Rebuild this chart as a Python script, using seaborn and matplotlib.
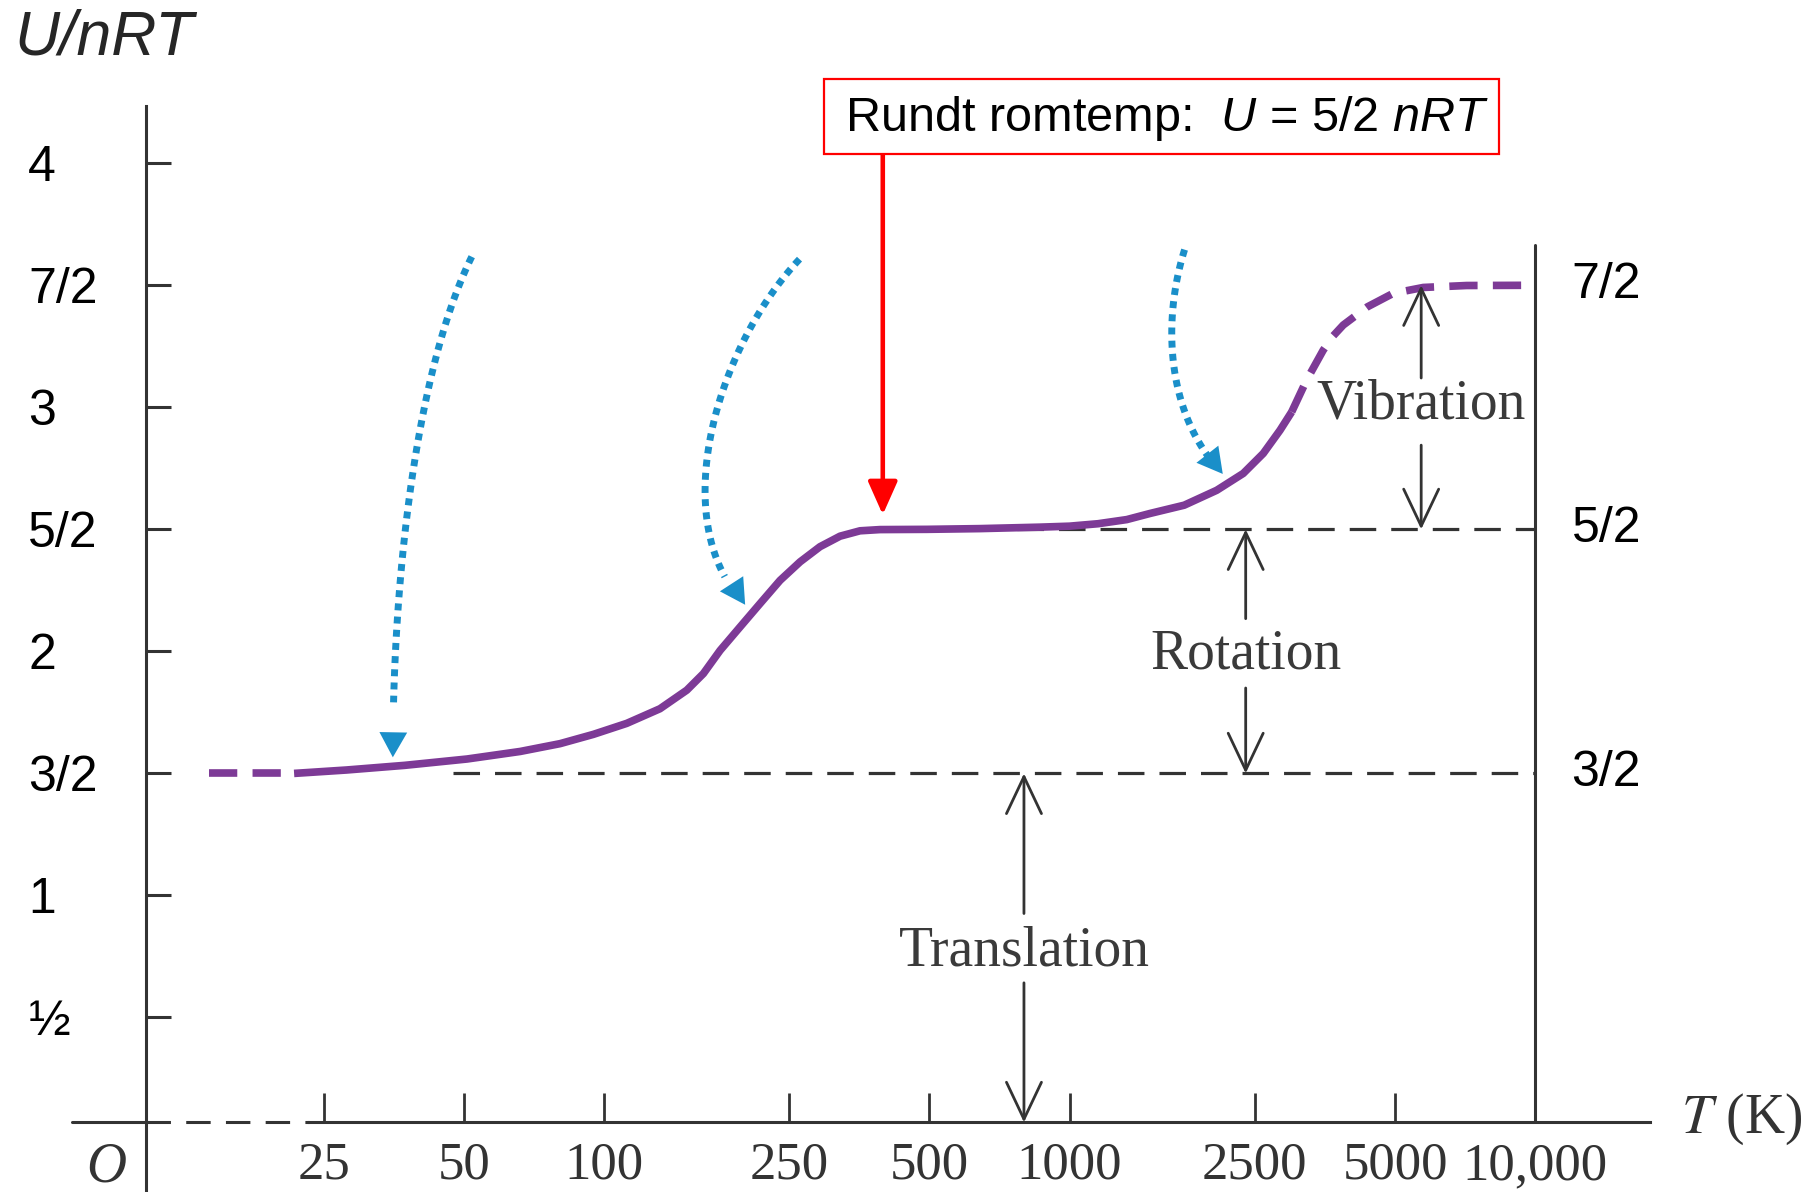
import numpy as np
import pandas as pd
import matplotlib
matplotlib.use('Agg')
import matplotlib.pyplot as plt
import seaborn as sns
from matplotlib.patches import Rectangle

# U/nRT curve (T in K)
temp_low = [14.15, 21.6]
u_low = [1.5, 1.5]
temp_mid = [21.6, 28.0, 37.3, 50.8, 66.1, 80.5, 94.9, 111.9, 131.9, 150.6, 163.5, 177.6,
            196.0, 216.4, 238.9, 263.8, 291.1, 321.4, 354.7, 391.5, 493.6, 641.8, 864,
            1000, 1151, 1327, 1488, 1763, 2070, 2360, 2606, 2831, 2999]
u_mid = [1.500, 1.514, 1.533, 1.559, 1.590, 1.622, 1.660, 1.705, 1.765, 1.841, 1.909,
         2.004, 2.100, 2.196, 2.291, 2.367, 2.429, 2.472, 2.494, 2.499, 2.500, 2.503,
         2.509, 2.513, 2.523, 2.540, 2.565, 2.599, 2.660, 2.729, 2.811, 2.906, 2.981]
temp_high = [2999, 3228, 3505, 3680, 3870, 4365, 4955, 5748, 7121, 10000]
u_high = [2.981, 3.111, 3.234, 3.292, 3.337, 3.412, 3.467, 3.491, 3.499, 3.5]

x_ticks = [25, 50, 100, 250, 500, 1000, 2500, 5000, 10000]
x_ticklabels = ['25', '50', '100', '250', '500', '1000', '2500', '5000', '10,000']
y_ticks = [0.5, 1, 1.5, 2, 2.5, 3, 3.5, 4]
y_ticklabels = ['½', '1', '3/2', '2', '5/2', '3', '7/2', '4']
right_levels = [1.5, 2.5, 3.5]
right_labels = ['3/2', '5/2', '7/2']

# degree-of-freedom bands: (label, T position, low, high, text U, gap below, gap above)
bands = [('Translation', 798, 0.07, 1.5, 0.77, 0.642, 0.926),
         ('Rotation', 2389, 1.5, 2.5, 1.988, 1.85, 2.134),
         ('Vibration', 5690, 2.5, 3.5, 3.01, 2.845, 3.12)]

# blue dotted hint arrows: cubic bezier control points (T, U)
hint_arrows = [[(52, 3.617), (39.5, 3.153), (35.2, 2.30), (35.2, 1.566)],
               [(263, 3.607), (175, 3.248), (135, 2.537), (201, 2.191)],
               [(1766, 3.646), (1575, 3.343), (1619, 2.964), (2133, 2.727)]]

T_AXIS = 10.4       # where the vertical axis crosses
U_AXIS = 0.07       # where the horizontal axis sits
T_BREAK = 23.2      # end of the dashed axis break
T_ROOM = 397        # room temperature marker

purple = '#7d3a96'
blue = '#1a8fc9'
grey = '#333333'

sns.set_theme(style='white')
plt.rcParams['font.family'] = ['Liberation Sans', 'DejaVu Sans']
plt.rcParams['mathtext.fontset'] = 'custom'
plt.rcParams['mathtext.rm'] = 'Liberation Sans'
plt.rcParams['mathtext.it'] = 'Liberation Sans:italic'

fig = plt.figure(figsize=(18.12, 11.92), dpi=100)
ax = fig.add_axes([0.03954, 0.0, 0.87117, 0.91077])
ax.set_xscale('log')
ax.set_xlim(7.19, 17660)
ax.set_ylim(-0.215, 4.233)
ax.patch.set_alpha(0)

# axes: left spine is the y axis, bottom spine is the T axis
for s in ['top', 'right']:
    ax.spines[s].set_visible(False)
ax.spines['left'].set_position(('data', T_AXIS))
ax.spines['left'].set_bounds(-0.215, 4.233)
ax.spines['bottom'].set_position(('data', U_AXIS))
ax.spines['bottom'].set_bounds(T_BREAK, 17660)
for s in ['left', 'bottom']:
    ax.spines[s].set_color(grey)
    ax.spines[s].set_linewidth(2.2)
ax.plot([7.19, T_AXIS], [U_AXIS, U_AXIS], color=grey, lw=2.2, clip_on=False)
ax.plot([T_AXIS, T_BREAK], [U_AXIS, U_AXIS], color=grey, lw=2.2,
        linestyle=(0, (8, 5)), clip_on=False)

ax.set_xticks(x_ticks)
ax.set_xticklabels(x_ticklabels)
ax.xaxis.set_minor_locator(matplotlib.ticker.NullLocator())
ax.tick_params(axis='x', bottom=True, direction='in', length=21, width=2, color=grey,
               pad=14, labelsize=38, labelcolor=grey)
for lab in ax.get_xticklabels():
    lab.set_family('Liberation Serif')

ax.set_yticks(y_ticks)
ax.set_yticklabels(y_ticklabels)
ax.tick_params(axis='y', left=True, direction='in', length=18, width=2.2, color=grey,
               pad=85, labelsize=36, labelcolor='black')
for lab in ax.get_yticklabels():
    lab.set_horizontalalignment('left')

# right border line and level labels
ax.plot([10000, 10000], [U_AXIS, 3.665], color=grey, lw=2.2)
for lev, lab in zip(right_levels, right_labels):
    ax.text(11970, lev, lab, fontsize=36, ha='left', va='center', color='black')

# reference dashed levels
ax.plot([47.4, 10000], [1.5, 1.5], color=grey, lw=2.3, linestyle=(0, (8.3, 4.7)))
ax.plot([771, 10000], [2.5, 2.5], color=grey, lw=2.3, linestyle=(0, (8.3, 4.7)))

# the curve
curve_kw = dict(ax=ax, color=purple, lw=5.5, sort=False, estimator=None,
                solid_joinstyle='round', solid_capstyle='butt')
sns.lineplot(x=temp_low, y=u_low, linestyle=(0, (3.7, 2.0)), **curve_kw)
sns.lineplot(x=temp_mid, y=u_mid, **curve_kw)
sns.lineplot(x=temp_high, y=u_high, linestyle=(0, (3.7, 2.0)), **curve_kw)

# band arrows + labels
arrow_kw = dict(arrowstyle='->,head_length=1.33,head_width=0.63', lw=2, color=grey,
                shrinkA=0, shrinkB=0, mutation_scale=20)
for name, t, lo, hi, tu, gap_lo, gap_hi in bands:
    ax.annotate('', xy=(t, hi), xytext=(t, gap_hi), arrowprops=arrow_kw)
    ax.annotate('', xy=(t, lo), xytext=(t, gap_lo), arrowprops=arrow_kw)
    ax.text(t, tu, name, fontsize=40, family='Liberation Serif', color='#3a3a3a',
            ha='center', va='center')

# blue dotted hint arrows
s = np.linspace(0, 1, 120)
for pts in hint_arrows:
    lx = np.log10([p[0] for p in pts])
    uy = np.array([p[1] for p in pts])
    bx = ((1 - s) ** 3 * lx[0] + 3 * (1 - s) ** 2 * s * lx[1]
          + 3 * (1 - s) * s ** 2 * lx[2] + s ** 3 * lx[3])
    by = ((1 - s) ** 3 * uy[0] + 3 * (1 - s) ** 2 * s * uy[1]
          + 3 * (1 - s) * s ** 2 * uy[2] + s ** 3 * uy[3])
    cut = 108
    ax.plot(10 ** bx[:cut], by[:cut], color=blue, lw=5, linestyle=(0, (1, 0.9)),
            dash_capstyle='butt')
    ax.annotate('', xy=(10 ** bx[-1], by[-1]), xytext=(10 ** bx[cut - 6], by[cut - 6]),
                arrowprops=dict(arrowstyle='-|>,head_length=0.45,head_width=0.25',
                                lw=0, color=blue, mutation_scale=40,
                                shrinkA=0, shrinkB=0))

# room temperature callout
ax.annotate('', xy=(T_ROOM, 2.56), xytext=(T_ROOM, 4.039),
            arrowprops=dict(arrowstyle='-|>,head_length=0.45,head_width=0.2', lw=3.3,
                            color='#ff0000', mutation_scale=45, shrinkA=0, shrinkB=0),
            annotation_clip=False)
fig.patches.append(Rectangle((0.4547, 0.8710), 0.3724, 0.0630, transform=fig.transFigure,
                             fill=True, facecolor='white', edgecolor='#ff0000', lw=1.6))
fig.text(0.4662, 0.9010, r'Rundt romtemp:  $\mathit{U}$ = 5/2 $\mathit{nRT}$',
         fontsize=35, ha='left', va='center', color='black')

# axis titles
fig.text(0.0077, 0.968, 'U/nRT', fontsize=45, style='italic', ha='left', va='center')
fig.text(92 / 1568, 1 - 1010 / 1031, 'O', fontsize=40, style='italic',
         family='Liberation Serif', ha='center', va='center', color=grey)
fig.text(1455 / 1568, 1 - 968 / 1031, r'$T$ (K)', fontsize=40, family='Liberation Serif',
         math_fontfamily='stix', ha='left', va='center', color=grey)

fig.savefig('out.png', dpi=100, facecolor='white')
